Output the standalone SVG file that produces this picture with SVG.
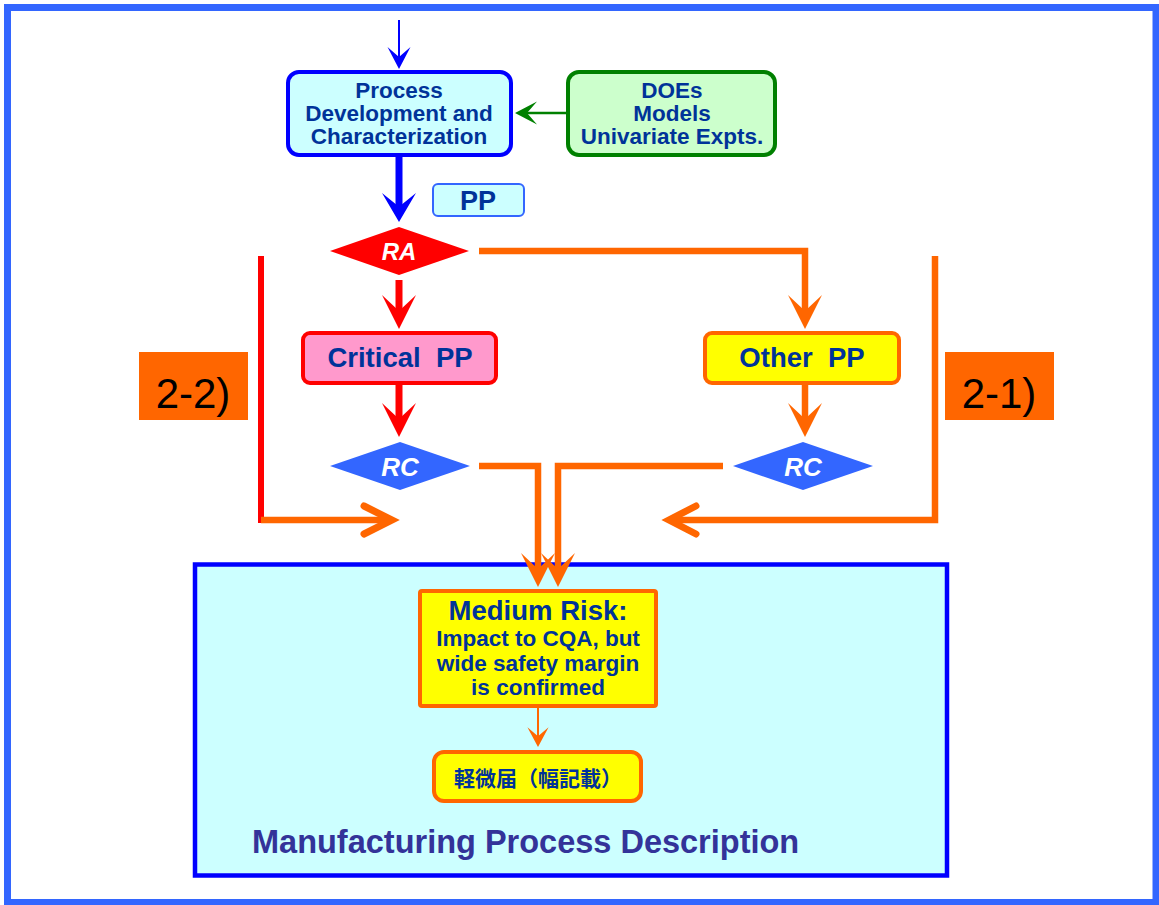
<svg xmlns="http://www.w3.org/2000/svg" width="1159" height="905" viewBox="0 0 1159 905">
<style>
  .t{font-family:"Liberation Sans",Arial,sans-serif;font-weight:bold;fill:#003399;text-anchor:middle}
  .cjk{font-family:"Liberation Sans","Noto Sans CJK JP",sans-serif;font-weight:bold;fill:#003399;text-anchor:middle}
  .dia{font-family:"Liberation Sans",Arial,sans-serif;font-weight:bold;font-style:italic;fill:#ffffff;text-anchor:middle}
  .lbl{font-family:"Liberation Sans",Arial,sans-serif;font-size:42px;fill:#000000;text-anchor:middle}
  .cap{font-family:"Liberation Sans",Arial,sans-serif;font-weight:bold;font-size:32.5px;fill:#333399}
  .or{fill:none;stroke:#FF6600;stroke-width:6.5}
  .rd{fill:none;stroke:#FF0000;stroke-width:7}
  .chev{fill:none;stroke:#FF6600;stroke-width:7;stroke-linecap:round;stroke-linejoin:miter}
  .box-or{fill:#FFFF00;stroke:#FF6600;stroke-width:4}
</style>
<defs>
  <!-- arrowheads point down, tip at the origin -->
  <path id="ah" d="M0,0 L-17,-34 L0,-18 L17,-34 Z"/>
  <path id="ahs" d="M0,0 L-11.5,-22 L0,-12 L11.5,-22 Z"/>
</defs>

<!-- page frame -->
<rect x="0" y="0" width="1159" height="905" fill="#ffffff"/>
<rect x="7.5" y="7.5" width="1148.5" height="895" fill="#ffffff" stroke="#3366FF" stroke-width="7"/>

<!-- manufacturing process description container -->
<g id="mpd">
  <rect x="195" y="564.5" width="752" height="311" fill="#CCFFFF" stroke="#0000FF" stroke-width="4.5"/>
  <text class="cap" x="252" y="853">Manufacturing Process Description</text>
</g>

<!-- connectors -->
<g id="connectors">
  <line x1="399" y1="20" x2="399" y2="60" stroke="#0000FF" stroke-width="2"/>
  <use href="#ahs" transform="translate(399,69)" fill="#0000FF"/>

  <line x1="566" y1="113" x2="525" y2="113" stroke="#008000" stroke-width="2.5"/>
  <use href="#ahs" transform="translate(515,113) rotate(90)" fill="#008000"/>

  <line x1="399" y1="157" x2="399" y2="212" stroke="#0000FF" stroke-width="7"/>
  <use href="#ah" transform="translate(399,222) scale(1,0.85)" fill="#0000FF"/>

  <line class="rd" x1="399" y1="280" x2="399" y2="318"/>
  <use href="#ah" transform="translate(399,329)" fill="#FF0000"/>

  <line class="rd" x1="399" y1="385" x2="399" y2="426"/>
  <use href="#ah" transform="translate(399,437)" fill="#FF0000"/>

  <polyline class="or" points="479,251 805,251 805,318"/>
  <use href="#ah" transform="translate(805,329)" fill="#FF6600"/>

  <line class="or" x1="805" y1="385" x2="805" y2="426"/>
  <use href="#ah" transform="translate(805,437)" fill="#FF6600"/>

  <polyline class="or" points="479,466 538,466 538,576"/>
  <use href="#ah" transform="translate(538,587)" fill="#FF6600"/>

  <polyline class="or" points="723,466 558,466 558,576"/>
  <use href="#ah" transform="translate(558,587)" fill="#FF6600"/>

  <line x1="261" y1="256" x2="261" y2="523" stroke="#FF0000" stroke-width="6"/>
  <line class="or" x1="261" y1="520" x2="390" y2="520"/>
  <polyline class="chev" points="364,506 392,520 364,534"/>

  <polyline class="or" points="935,256 935,520 671,520"/>
  <polyline class="chev" points="696,506 669,520 696,534"/>

  <line x1="538" y1="708" x2="538" y2="738" stroke="#FF6600" stroke-width="2"/>
  <use href="#ahs" transform="translate(538,747) scale(0.92,0.9)" fill="#FF6600"/>
</g>

<!-- nodes -->
<g id="process-dev">
  <rect x="288" y="72" width="223" height="83" rx="11" fill="#CCFFFF" stroke="#0000FF" stroke-width="4"/>
  <text class="t" font-size="22.5" x="399" y="98">Process</text>
  <text class="t" font-size="22.5" x="399" y="121">Development and</text>
  <text class="t" font-size="22.5" x="399" y="143.5">Characterization</text>
</g>

<g id="does">
  <rect x="568" y="72" width="207" height="83" rx="11" fill="#CCFFCC" stroke="#008000" stroke-width="4"/>
  <text class="t" font-size="22.5" x="672" y="98">DOEs</text>
  <text class="t" font-size="22.5" x="672" y="121">Models</text>
  <text class="t" font-size="22.5" x="672" y="143.5">Univariate Expts.</text>
</g>

<g id="pp-label">
  <rect x="433" y="184" width="91" height="32" rx="5" fill="#CCFFFF" stroke="#3366FF" stroke-width="2"/>
  <text class="t" font-size="27" x="478" y="210">PP</text>
</g>

<g id="ra">
  <polygon points="330,251 399,227 469,251 399,275" fill="#FF0000"/>
  <text class="dia" font-size="24" x="399" y="260">RA</text>
</g>

<g id="critical-pp">
  <rect x="303" y="333" width="193" height="50" rx="7" fill="#FF99CC" stroke="#FF0000" stroke-width="4"/>
  <text class="t" font-size="27.5" x="400" y="367" xml:space="preserve">Critical  PP</text>
</g>

<g id="other-pp">
  <rect x="705" y="333" width="194" height="50" rx="7" fill="#FFFF00" stroke="#FF6600" stroke-width="4"/>
  <text class="t" font-size="27.5" x="802" y="367" xml:space="preserve">Other  PP</text>
</g>

<g id="rc-critical">
  <polygon points="330,466 400,442 470,466 400,490" fill="#3366FF"/>
  <text class="dia" font-size="26" x="400" y="476">RC</text>
</g>

<g id="rc-other">
  <polygon points="733,466 803,442 873,466 803,490" fill="#3366FF"/>
  <text class="dia" font-size="26" x="803" y="476">RC</text>
</g>

<g id="label-2-2">
  <rect x="139" y="352" width="109" height="68" fill="#FF6600"/>
  <text class="lbl" x="193" y="408">2-2)</text>
</g>

<g id="label-2-1">
  <rect x="945" y="352" width="109" height="68" fill="#FF6600"/>
  <text class="lbl" x="999" y="408">2-1)</text>
</g>

<g id="medium-risk">
  <rect class="box-or" x="420" y="591" width="236" height="115" rx="2"/>
  <text class="t" font-size="27.5" x="538" y="620">Medium Risk:</text>
  <text class="t" font-size="22.5" x="538" y="646">Impact to CQA, but</text>
  <text class="t" font-size="22.5" x="538" y="671">wide safety margin</text>
  <text class="t" font-size="22.5" x="538" y="695">is confirmed</text>
</g>

<g id="minor-notice">
  <rect class="box-or" x="434" y="752" width="207" height="49" rx="10"/>
  <text class="cjk" font-size="21" x="538" y="786">軽微届（幅記載）</text>
</g>
</svg>
